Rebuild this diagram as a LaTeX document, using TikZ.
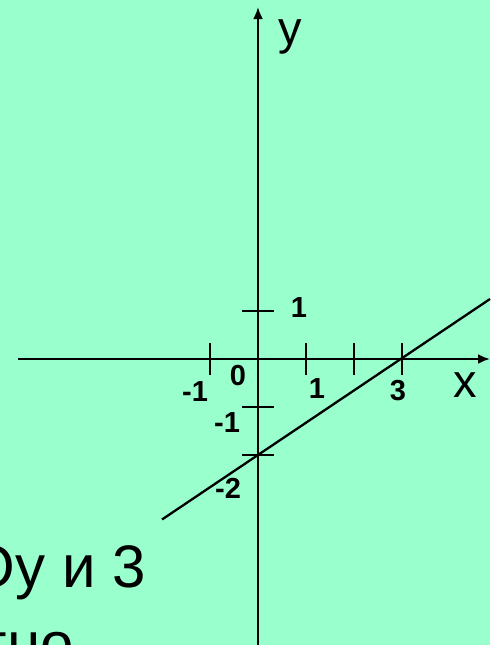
\documentclass[tikz,border=0pt]{standalone}
\usepackage{fontspec}
\setmainfont{Liberation Sans}
\usetikzlibrary{arrows.meta}
\definecolor{bgmint}{HTML}{99FFCC}
\begin{document}
\begin{tikzpicture}[x=1pt,y=-1pt,
  axis/.style={line width=2.3pt,-{Latex[length=12pt,width=10pt]}},
  tick/.style={line width=2.2pt},
  graphline/.style={line width=2.3pt},
  num/.style={font=\fontsize{29}{31}\selectfont\bfseries,inner sep=0pt},
  axlabel/.style={font=\fontsize{47}{50}\selectfont,inner sep=0pt},
  bigtext/.style={font=\fontsize{60}{70}\selectfont,inner sep=0pt}]
\fill[bgmint] (0,0) rectangle (490,645);
\useasboundingbox (0,0) rectangle (490,645);
% axis endpoints
\coordinate (xs) at (18,359);
\coordinate (xe) at (490,359);
\coordinate (ys) at (258,645);
\coordinate (ye) at (258,7);
\draw[axis] (xs) -- (xe);
\draw[axis] (ys) -- (ye);
% x ticks
\foreach \i/\xx in {m1/210,p1/306,p2/354,p3/402}{
  \coordinate (xt\i a) at (\xx,343);
  \coordinate (xt\i b) at (\xx,375);
  \draw[tick] (xt\i a) -- (xt\i b);
}
% y ticks
\foreach \i/\yy in {p1/311,m1/407,m2/455}{
  \coordinate (yt\i a) at (242,\yy);
  \coordinate (yt\i b) at (274,\yy);
  \draw[tick] (yt\i a) -- (yt\i b);
}
% graph line
\coordinate (la) at (162,519.5);
\coordinate (lb) at (490,299);
\draw[graphline] (la) -- (lb);
% labels
\node[num] (ly1) at (299,308) {1};
\node[num] (lxm1) at (195,392) {-1};
\node[num] (l0) at (238,376) {0};
\node[num] (lx1) at (317,389) {1};
\node[num] (lx3) at (398,391) {3};
\node[num] (lym1) at (227,423) {-1};
\node[num] (lym2) at (228,488) {-2};
\node[axlabel] (lx) at (465,385) {x};
\node[axlabel] (ly) at (290,37) {y};
% bottom text
\node[bigtext,anchor=base east] (t1) at (146,587) {Оу и 3};
\node[bigtext,anchor=base east] (t2) at (74,664) {тно};
\end{tikzpicture}
\end{document}
